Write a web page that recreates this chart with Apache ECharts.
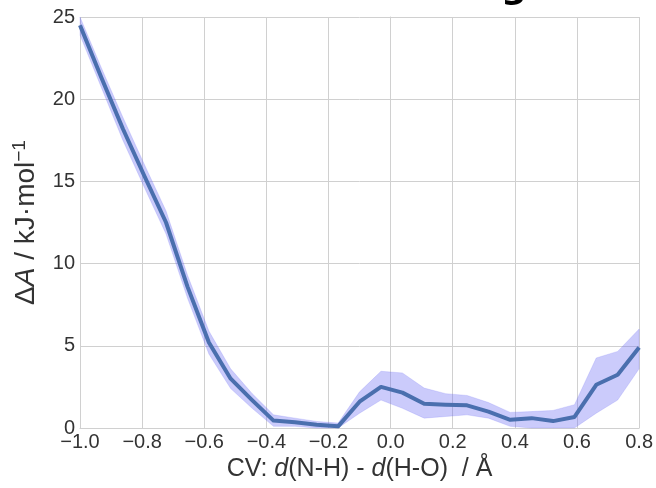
<!DOCTYPE html>
<html>
<head>
<meta charset="utf-8">
<script src="https://cdn.jsdelivr.net/npm/echarts@6/dist/echarts.min.js"></script>
<style>
  html, body { margin: 0; padding: 0; background: #fff; }
  #chart { width: 656px; height: 488px; }
</style>
</head>
<body>
<div id="chart"></div>
<script>
// Collective variable grid (Å)
const cv = [-1.000, -0.931, -0.862, -0.792, -0.723, -0.654, -0.585, -0.515, -0.446,
            -0.377, -0.308, -0.238, -0.169, -0.100, -0.031, 0.038, 0.108, 0.177,
            0.246, 0.315, 0.385, 0.454, 0.523, 0.592, 0.662, 0.731, 0.800];
// Free energy profile (kJ/mol)
const dA = [24.5, 21.3, 18.2, 15.3, 12.5, 8.6, 5.2, 3.0, 1.7,
            0.45, 0.35, 0.2, 0.1, 1.6, 2.5, 2.15, 1.48, 1.42,
            1.38, 1.0, 0.5, 0.6, 0.42, 0.67, 2.63, 3.24, 4.9];
// Uncertainty envelope
const upper = [25.0, 21.9, 18.9, 16.0, 13.2, 9.3, 5.9, 3.6, 2.1,
               0.8, 0.6, 0.4, 0.3, 2.2, 3.45, 3.35, 2.43, 2.09,
               1.98, 1.55, 0.95, 1.0, 1.07, 1.42, 4.26, 4.66, 6.02];
const lower = [23.9, 20.7, 17.5, 14.6, 11.8, 7.9, 4.5, 2.4, 1.2,
               0.1, 0.1, 0.0, 0.0, 0.9, 1.7, 1.2, 0.6, 0.7,
               0.8, 0.6, 0.1, 0.0, 0.0, 0.0, 0.9, 1.7, 3.6];
const xTicks = { min: -1.0, max: 0.8, step: 0.2 };
const yTicks = { min: 0, max: 25, step: 5 };

const FONT = '"Liberation Sans", Arial, sans-serif';
const GRID_COLOR = '#d0d0d0';
const TEXT_COLOR = '#333333';

const chart = echarts.init(document.getElementById('chart'), null, { renderer: 'canvas' });

const pairs = arr => cv.map((x, i) => [x, arr[i]]);

// Envelope polygon: upper edge left-to-right, then lower edge back
function renderBand(params, api) {
  const pts = [];
  for (let i = 0; i < cv.length; i++) pts.push(api.coord([cv[i], upper[i]]));
  for (let i = cv.length - 1; i >= 0; i--) pts.push(api.coord([cv[i], lower[i]]));
  return {
    type: 'polygon',
    shape: { points: pts },
    style: { fill: 'rgba(112, 112, 245, 0.36)', stroke: 'rgba(112, 112, 245, 0.2)', lineWidth: 1 },
    silent: true
  };
}

chart.setOption({
  animation: false,
  backgroundColor: '#ffffff',
  grid: { left: 80, right: 14, top: 17, bottom: 60, containLabel: false },
  graphic: [{
    type: 'text', left: 501, top: -29, silent: true,
    style: { text: 'g', font: 'bold 36px "DejaVu Sans", sans-serif', fill: '#000' }
  }],
  xAxis: {
    type: 'value', min: xTicks.min, max: xTicks.max, interval: xTicks.step,
    axisLine: { show: true, lineStyle: { color: GRID_COLOR, width: 1 } },
    axisTick: { show: false },
    splitLine: { show: true, lineStyle: { color: GRID_COLOR, width: 1 } },
    axisLabel: {
      margin: 4, fontFamily: FONT, fontSize: 20, color: TEXT_COLOR,
      formatter: v => v.toFixed(1).replace('-', '\u2212')
    },
    name: '{n|CV: }{i|d}{n|(N-H) - }{i|d}{n|(H-O)  / Å}',
    nameLocation: 'middle', nameGap: 27,
    nameTextStyle: {
      rich: {
        n: { fontFamily: FONT, fontSize: 25, color: TEXT_COLOR },
        i: { fontFamily: FONT, fontSize: 25, color: TEXT_COLOR, fontStyle: 'italic' }
      }
    }
  },
  yAxis: {
    type: 'value', min: yTicks.min, max: yTicks.max, interval: yTicks.step,
    axisLine: { show: true, lineStyle: { color: GRID_COLOR, width: 1 } },
    axisTick: { show: false },
    splitLine: { show: true, lineStyle: { color: GRID_COLOR, width: 1 } },
    axisLabel: { margin: 5, fontFamily: FONT, fontSize: 20, color: TEXT_COLOR },
    name: '{n|Δ}{i|A}{n| / kJ·mol}{s|−1}',
    nameLocation: 'middle', nameGap: 38, nameRotate: 90,
    nameTextStyle: {
      rich: {
        n: { fontFamily: FONT, fontSize: 28, color: TEXT_COLOR },
        i: { fontFamily: FONT, fontSize: 28, color: TEXT_COLOR, fontStyle: 'italic' },
        s: { fontFamily: FONT, fontSize: 19, color: TEXT_COLOR, padding: [0, 0, 13, 0] }
      }
    }
  },
  series: [
    {
      type: 'custom', data: [0], renderItem: renderBand, silent: true, z: 1
    },
    {
      type: 'line', data: pairs(dA), symbol: 'none', z: 3,
      lineStyle: { color: '#4a6fae', width: 4, join: 'round' }
    }
  ]
});
</script>
</body>
</html>
